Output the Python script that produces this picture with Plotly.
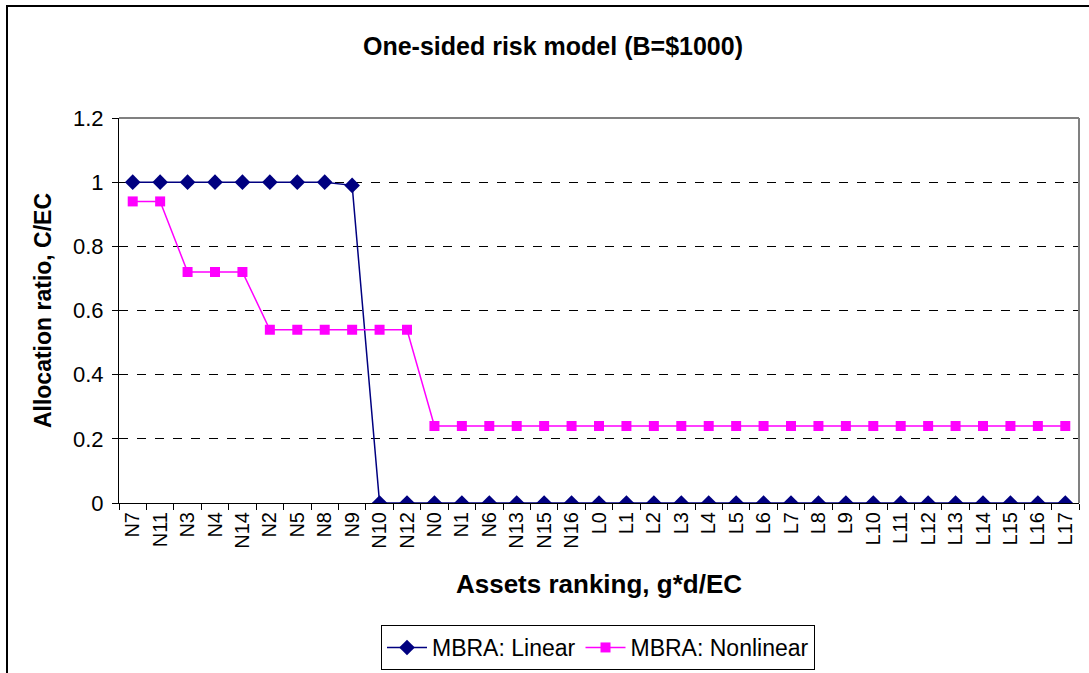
import plotly.graph_objects as go

assets = ["N7", "N11", "N3", "N4", "N14", "N2", "N5", "N8", "N9", "N10", "N12",
          "N0", "N1", "N6", "N13", "N15", "N16",
          "L0", "L1", "L2", "L3", "L4", "L5", "L6", "L7", "L8", "L9",
          "L10", "L11", "L12", "L13", "L14", "L15", "L16", "L17"]

linear = [1, 1, 1, 1, 1, 1, 1, 1, 0.99, 0, 0,
          0, 0, 0, 0, 0, 0,
          0, 0, 0, 0, 0, 0, 0, 0, 0, 0,
          0, 0, 0, 0, 0, 0, 0, 0]

nonlinear = [0.94, 0.94, 0.72, 0.72, 0.72, 0.54, 0.54, 0.54, 0.54, 0.54, 0.54,
             0.24, 0.24, 0.24, 0.24, 0.24, 0.24,
             0.24, 0.24, 0.24, 0.24, 0.24, 0.24, 0.24, 0.24, 0.24, 0.24,
             0.24, 0.24, 0.24, 0.24, 0.24, 0.24, 0.24, 0.24]

y_ticks = [0, 0.2, 0.4, 0.6, 0.8, 1, 1.2]

FONT = "Liberation Sans, Arial, sans-serif"

fig = go.Figure()
fig.add_trace(go.Scatter(
    x=assets, y=linear, mode="lines+markers", name="MBRA: Linear",
    line=dict(color="#000080", width=1.5),
    marker=dict(symbol="diamond", size=12, color="#000080"),
))
fig.add_trace(go.Scatter(
    x=assets, y=nonlinear, mode="lines+markers", name="MBRA: Nonlinear",
    line=dict(color="#FF00FF", width=1.5),
    marker=dict(symbol="square", size=10, color="#FF00FF"),
))

L, R, T, B = 119, 10, 118, 170
W, H = 1089, 673
pw, ph = W - L - R, H - T - B


def px_x(p):
    return (p - L) / pw


def px_y(p):
    return (H - B - p) / ph


shapes = [
    # plot area top and right edges
    dict(type="line", xref="paper", yref="paper", x0=0, x1=1, y0=1, y1=1,
         line=dict(color="#808080", width=2), layer="above"),
    dict(type="line", xref="paper", yref="paper", x0=1, x1=1, y0=0, y1=1,
         line=dict(color="#808080", width=2), layer="above"),
    # chart frame
    dict(type="rect", xref="paper", yref="paper",
         x0=px_x(7), x1=px_x(W + 20), y0=px_y(H + 20), y1=px_y(6),
         line=dict(color="black", width=2), layer="above"),
]

fig.update_layout(
    width=W, height=H,
    margin=dict(l=L, r=R, t=T, b=B, autoexpand=False),
    paper_bgcolor="white", plot_bgcolor="white",
    font=dict(family=FONT, color="black"),
    title=dict(text="<b>One-sided risk model (B=$1000)</b>",
               xref="container", x=553 / W, xanchor="center",
               yref="container", y=1 - 46 / H, yanchor="middle",
               font=dict(size=25, family=FONT)),
    showlegend=True,
    legend=dict(orientation="h", x=px_x(598), xanchor="center",
                y=px_y(625), yanchor="top",
                bordercolor="black", borderwidth=1,
                font=dict(size=23, family=FONT),
                itemwidth=40, tracegroupgap=0),
    shapes=shapes,
    xaxis=dict(
        type="category", tickson="boundaries", automargin=False,
        tickangle=-90, tickfont=dict(size=20, family=FONT),
        ticks="outside", ticklen=6, tickcolor="black",
        showline=True, linecolor="black", linewidth=1,
        showgrid=False, zeroline=False,
        title=dict(text="<b>Assets ranking, g*d/EC</b>",
                   font=dict(size=26, family=FONT), standoff=27),
        range=[-0.5, len(assets) - 0.5],
    ),
    yaxis=dict(
        range=[0, 1.2], tickvals=y_ticks, ticktext=[str(v) for v in y_ticks],
        automargin=False,
        tickfont=dict(size=22, family=FONT),
        ticks="outside", ticklen=6, tickcolor="black",
        ticklabelstandoff=4,
        showline=True, linecolor="black", linewidth=1,
        showgrid=True, gridcolor="black", gridwidth=1, griddash="dash",
        zeroline=False,
        title=dict(text="<b>Allocation ratio, C/EC</b>",
                   font=dict(size=23, family=FONT), standoff=14),
    ),
)

fig.write_html("out.html")
